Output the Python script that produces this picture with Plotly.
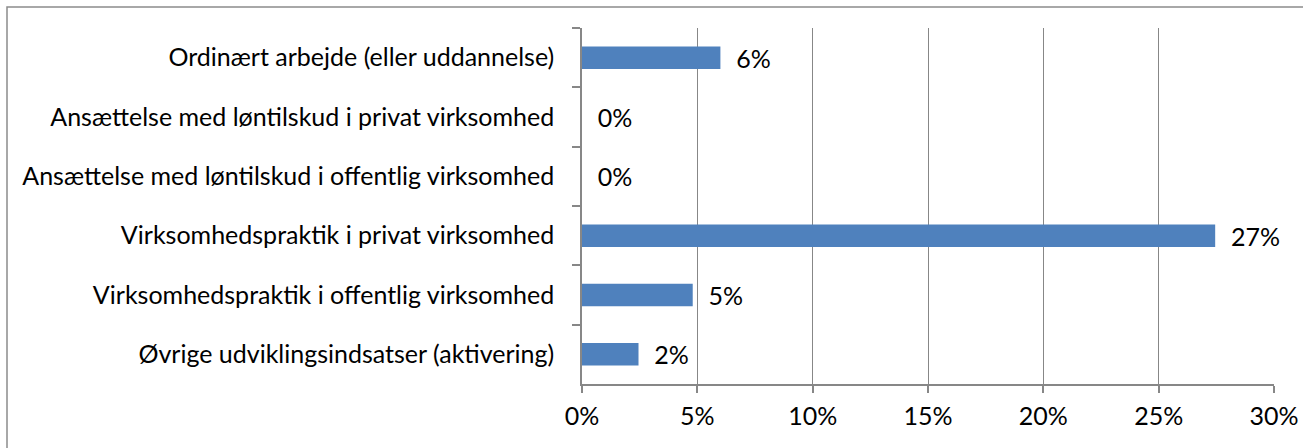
import plotly.graph_objects as go

categories = [
    "Ordinært arbejde (eller uddannelse)",
    "Ansættelse med løntilskud i privat virksomhed",
    "Ansættelse med løntilskud i offentlig virksomhed",
    "Virksomhedspraktik i privat virksomhed",
    "Virksomhedspraktik i offentlig virksomhed",
    "Øvrige udviklingsindsatser (aktivering)",
]
values = [6.0, 0.0, 0.0, 27.45, 4.8, 2.45]
x_ticks = [0, 5, 10, 15, 20, 25, 30]
x_tick_labels = ["0%", "5%", "10%", "15%", "20%", "25%", "30%"]

W, H = 1303, 448
L, R, T, B = 582, 29, 28, 64
pw, ph = W - L - R, H - T - B

FONT = "Lato"
FS = 25
grid = "#878787"

fig = go.Figure(go.Bar(
    y=categories, x=values, orientation="h",
    marker=dict(color="#4F81BD", line=dict(width=0)),
    text=[f"{v:.0f}%" for v in values],
    texttemplate="\u00a0\u00a0%{text}",
    textposition="outside", cliponaxis=False, constraintext="none",
    textfont=dict(family=FONT, size=FS, color="#000000"),
    width=0.38,
    hoverinfo="skip",
))

def px_x(p):
    return (p - L) / pw

def px_y(p):
    return (H - B - p) / ph

fig.add_shape(type="rect", xref="paper", yref="paper",
              x0=px_x(7), x1=px_x(1320), y0=px_y(7), y1=px_y(470),
              line=dict(color="#8C8C8C", width=1.5), fillcolor="rgba(0,0,0,0)",
              layer="below")

fig.update_layout(
    width=W, height=H,
    margin=dict(l=L, r=R, t=T, b=B, pad=0, autoexpand=False),
    paper_bgcolor="white", plot_bgcolor="white",
    showlegend=False,
    font=dict(family=FONT, size=FS, color="#000000"),
    xaxis=dict(range=[0, 30], tickvals=x_ticks, ticktext=x_tick_labels,
               showgrid=True, gridcolor=grid, gridwidth=1.3,
               showline=True, linecolor=grid, linewidth=1.5,
               ticks="outside", ticklen=7, tickcolor=grid, tickwidth=1.5,
               ticklabelstandoff=2, zeroline=False, fixedrange=True,
               automargin=False),
    yaxis=dict(autorange="reversed", tickson="boundaries",
               showgrid=False, showline=True, linecolor=grid, linewidth=1.5,
               ticks="outside", ticklen=8, tickcolor=grid, tickwidth=1.5,
               ticklabelstandoff=21, fixedrange=True, automargin=False),
)

fig.write_html("out.html", config={"displayModeBar": False},
               post_script="document.body.style.margin='0';document.body.style.overflow='hidden';")
